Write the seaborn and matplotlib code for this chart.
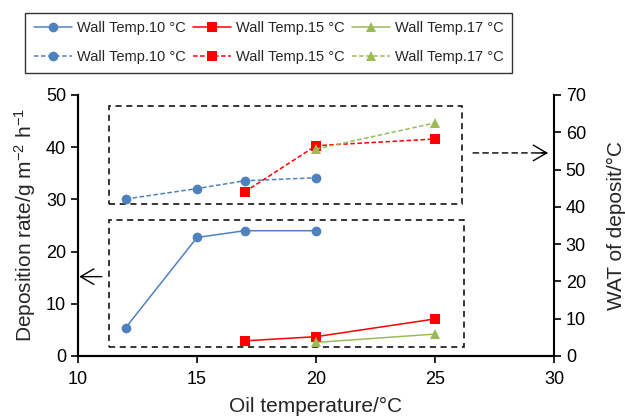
import matplotlib
matplotlib.use("Agg")
import matplotlib.pyplot as plt
import seaborn as sns
from matplotlib.patches import Rectangle
from matplotlib.lines import Line2D

# values
oil_10 = [12, 15, 17, 20]
rate_10 = [5.4, 22.7, 24.0, 24.0]
wat_10 = [42.1, 44.9, 47.0, 47.8]

oil_15 = [17, 20, 25]
rate_15 = [2.9, 3.7, 7.1]
wat_15 = [44.0, 56.4, 58.2]

oil_17 = [20, 25]
rate_17 = [2.6, 4.2]
wat_17 = [55.5, 62.5]

labels = ["Wall Temp.10 °C", "Wall Temp.15 °C", "Wall Temp.17 °C"]
colors = ["#4F81BD", "#FF0000", "#9BBB59"]
markers = ["o", "s", "^"]

sns.set_style("white")
plt.rcParams["font.family"] = ["Liberation Sans", "DejaVu Sans"]
plt.rcParams["mathtext.fontset"] = "custom"
plt.rcParams["mathtext.rm"] = "Liberation Sans"
plt.rcParams["mathtext.default"] = "regular"

fig = plt.figure(figsize=(6.25, 4.17), dpi=100)
ax = fig.add_axes([0.1248, 0.1463, 0.7616, 0.6259])
ax2 = ax.twinx()

dash = (0, (3, 1.6))
ms = 7
series = [(oil_10, rate_10, wat_10), (oil_15, rate_15, wat_15), (oil_17, rate_17, wat_17)]
handles = []
for (x, r, w), lab, c, m in zip(series, labels, colors, markers):
    sns.lineplot(x=x, y=r, ax=ax, color=c, marker=m, markersize=ms,
                 markeredgewidth=0, linewidth=1.1, zorder=3)
    sns.lineplot(x=x, y=w, ax=ax2, color=c, marker=m, markersize=ms,
                 markeredgewidth=0, linewidth=1.1, linestyle=dash, zorder=3)
    handles.append((Line2D([], [], color=c, marker=m, markersize=ms, markeredgewidth=0, lw=1.1), lab))
    handles.append((Line2D([], [], color=c, marker=m, markersize=ms, markeredgewidth=0, lw=1.1, ls=dash), lab))

ax.set_xlim(10, 30)
ax.set_ylim(0, 50)
ax2.set_ylim(0, 70)
ax.set_xticks([10, 15, 20, 25, 30])
ax.set_yticks(range(0, 51, 10))
ax2.set_yticks(range(0, 71, 10))

for a in (ax, ax2):
    for s in a.spines.values():
        s.set_linewidth(1.5)
        s.set_color("black")
    a.spines["top"].set_visible(False)
    a.tick_params(labelsize=13, width=1.2, length=5, direction="out", colors="black")
ax.tick_params(axis="x", bottom=True, pad=6)
ax.tick_params(axis="y", left=True)
ax2.tick_params(axis="y", right=True)
ax.spines["right"].set_visible(False)

ax.set_xlabel("Oil temperature/°C", fontsize=15, labelpad=6)
ax.set_ylabel("Deposition rate/g m$^{-2}$ h$^{-1}$", fontsize=15, labelpad=6)
ax2.set_ylabel("WAT of deposit/°C", fontsize=15, labelpad=15)

# dashed boxes
box_kw = dict(fill=False, edgecolor="black", linewidth=1.1, linestyle=(0, (4, 3)), zorder=2)
ax.add_patch(Rectangle((11.3, 29.1), 26.15 - 11.3, 47.9 - 29.1, **box_kw))
ax.add_patch(Rectangle((11.3, 1.8), 26.2 - 11.3, 26.05 - 1.8, **box_kw))

# arrows
head = "->, head_length=0.6, head_width=0.35"
ax.annotate("", xy=(10.05, 15.2), xytext=(11.0, 15.2),
            arrowprops=dict(arrowstyle=head, lw=1, color="black", mutation_scale=16,
                            shrinkA=0, shrinkB=0))
ax.annotate("", xy=(29.75, 38.9), xytext=(26.6, 38.9),
            arrowprops=dict(arrowstyle="-", lw=1, color="black", linestyle=(0, (4, 3)),
                            shrinkA=0, shrinkB=0))
ax.annotate("", xy=(29.75, 38.9), xytext=(29.3, 38.9),
            arrowprops=dict(arrowstyle=head, lw=1, color="black", mutation_scale=16,
                            shrinkA=0, shrinkB=0))

leg = fig.legend([h for h, _ in handles], [l for _, l in handles], ncol=3,
                 loc="upper left", bbox_to_anchor=(0.04, 0.97), borderaxespad=0,
                 fontsize=10.5, frameon=True, fancybox=False, edgecolor="black",
                 handlelength=2.6, handletextpad=0.35, columnspacing=0.5,
                 borderpad=0.6, labelspacing=1.0)
leg.get_frame().set_linewidth(1)

fig.savefig("out.png", dpi=100)
